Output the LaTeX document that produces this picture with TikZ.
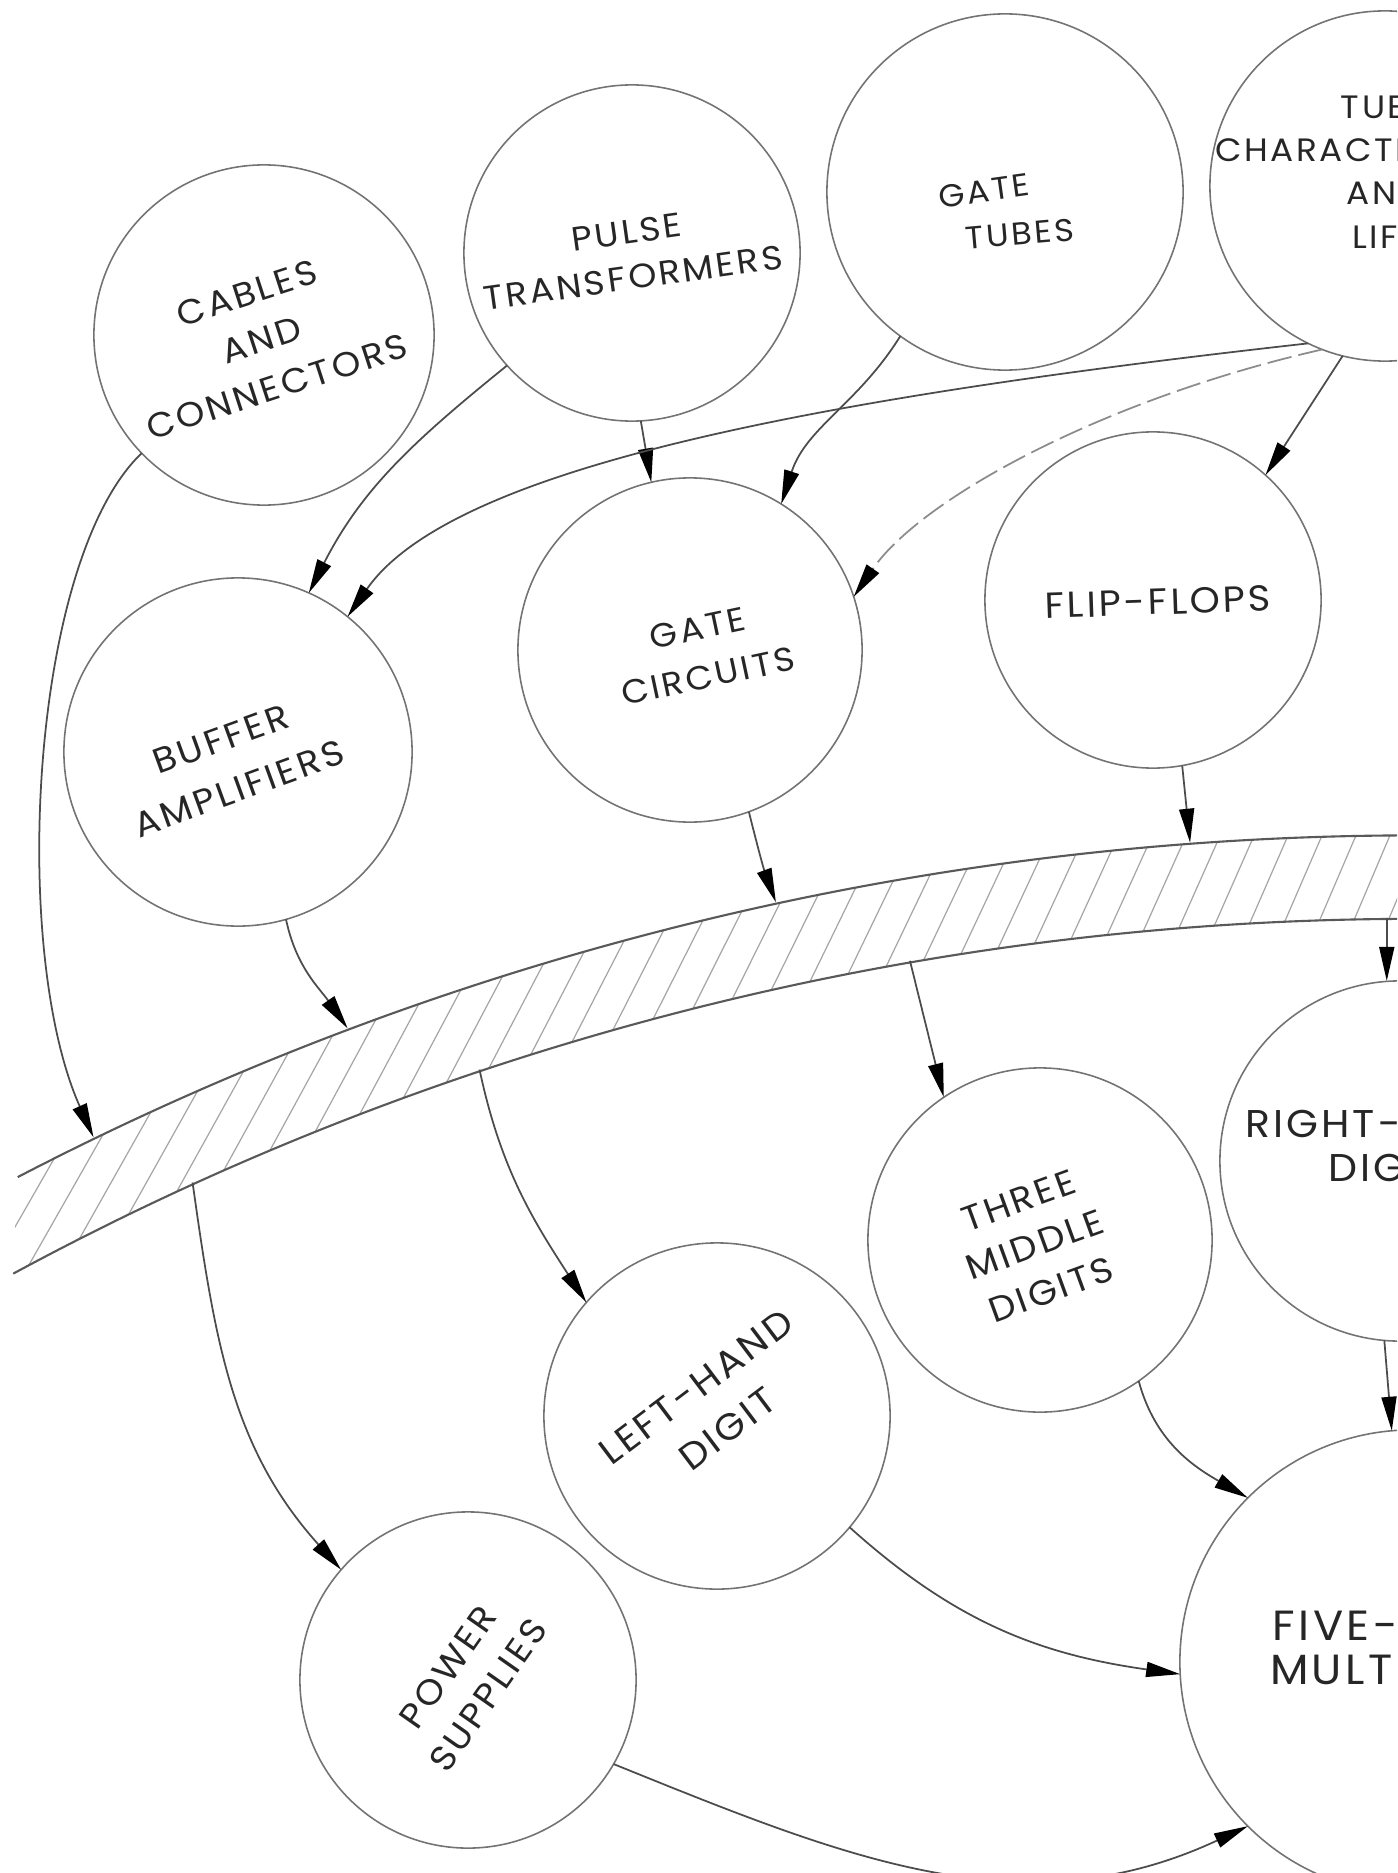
\documentclass[tikz,border=0pt]{standalone}
\usepackage{fontspec}
\setmainfont{Poppins}[LetterSpace=8,FakeStretch=1.06]
\usetikzlibrary{arrows.meta}
\begin{document}
\begin{tikzpicture}[x=0.01cm,y=0.01cm,
  circ/.style={circle,draw=black!55,line width=0.45pt,inner sep=0pt,outer sep=0pt},
  lbl/.style={text=black!85,align=center,inner sep=0pt},
  arr/.style={draw=black!70,line width=0.5pt,-{Triangle[length=0.34cm,width=0.15cm,color=black]}},
  arrfaint/.style={arr,draw=black!45,dash pattern=on 7pt off 2pt},
  bandline/.style={draw=black!65,line width=0.6pt},
  hatchline/.style={draw=black!35,line width=0.35pt}]
\useasboundingbox (0,0) rectangle (1397,-1873);
\clip (0,0) rectangle (1397,-1873);

% circles
\node[circ,minimum size=3.40cm] (cab) at (264,-335) {};
\node[circ,minimum size=3.36cm] (pul) at (632,-253) {};
\node[circ,minimum size=3.56cm] (gtu) at (1005,-192) {};
\node[circ,minimum size=3.50cm] (tub) at (1385,-186) {};
\node[circ,minimum size=3.48cm] (buf) at (238,-752) {};
\node[circ,minimum size=3.44cm] (gci) at (690,-650) {};
\node[circ,minimum size=3.36cm] (ffl) at (1153,-600) {};
\node[circ,minimum size=3.44cm] (thr) at (1040,-1240) {};
\node[circ,minimum size=3.60cm] (rhd) at (1400,-1161) {};
\node[circ,minimum size=3.46cm] (lhd) at (717,-1416) {};
\node[circ,minimum size=3.36cm] (pow) at (468,-1680) {};
\node[circ,minimum size=4.64cm] (fiv) at (1412,-1662) {};

% labels
\node[lbl,rotate=18,font=\fontsize{9.8}{14}\selectfont] (cabT) at (262,-340) {CABLES\\AND\\CONNECTORS};
\node[lbl,rotate=8,font=\fontsize{9.6}{13}\selectfont] (pulT) at (630,-255) {PULSE\\TRANSFORMERS};
\node[lbl,rotate=8,font=\fontsize{9}{12}\selectfont] (gtuT1) at (984,-191) {GATE};
\node[lbl,rotate=5,font=\fontsize{9}{12}\selectfont] (gtuT2) at (1020,-234) {TUBES};
\node[lbl,font=\fontsize{9.2}{12.3}\selectfont] (tubT) at (1385,-172) {TUBE\\CHARACTERISTICS\\AND\\LIFE};
\node[lbl,rotate=20,font=\fontsize{10}{15}\selectfont] (bufT) at (230,-764) {BUFFER\\AMPLIFIERS};
\node[lbl,rotate=12,font=\fontsize{9.5}{14}\selectfont] (gciT) at (703,-652) {GATE\\CIRCUITS};
\node[lbl,rotate=2,font=\fontsize{10.3}{13}\selectfont] (fflT) at (1158,-602) {FLIP-FLOPS};
\node[lbl,rotate=20,font=\fontsize{10}{13.5}\selectfont] (thrT) at (1035,-1245) {THREE\\MIDDLE\\DIGITS};
\node[lbl,font=\fontsize{11}{12.5}\selectfont] (rhdT) at (1386,-1146) {RIGHT-HAND\\DIGIT};
\node[lbl,rotate=37,font=\fontsize{10.5}{15}\selectfont] (lhdT) at (712,-1408) {LEFT-HAND\\DIGIT};
\node[lbl,rotate=55,font=\fontsize{10}{14}\selectfont] (powT) at (468,-1681) {POWER\\SUPPLIES};
\node[lbl,font=\fontsize{12}{12.5}\selectfont] (fivT) at (1400,-1648) {FIVE-DIGIT\\MULTIPLIER};

% band
\coordinate (C) at (1414,-3864);
\begin{scope}
\clip (17.7,-1177.1) arc[start angle=117.47,end angle=88,radius=30.28cm]
  -- (1516.8,-920.8) arc[start angle=88,end angle=118.4,radius=29.45cm] -- cycle;
\foreach \i in {0,...,46} {
  \draw[hatchline] (\i*36-80,-1330) -- ++({60+0.2*\i}:6cm);
}
\end{scope}
\draw[bandline] (17.7,-1177.1) arc[start angle=117.47,end angle=88,radius=30.28cm];
\draw[bandline] (13.3,-1273.6) arc[start angle=118.4,end angle=88,radius=29.45cm];

\path (C) ++(115.84:30.28cm) coordinate (bU1);
\path (C) ++(110.61:30.28cm) coordinate (bU2);
\path (C) ++(102.16:30.28cm) coordinate (bU3);
\path (C) ++(94.24:30.28cm) coordinate (bU4);
\path (C) ++(114.49:29.45cm) coordinate (bL1);
\path (C) ++(108.49:29.45cm) coordinate (bL2);
\path (C) ++(99.85:29.45cm) coordinate (bL3);
\path (C) ++(90.53:29.45cm) coordinate (bL4);

% connectors
\draw[arr] (cab.224.5) .. controls (30,-560) and (10,-950) .. (bU1);
\draw[arr] (buf.-74) to[out=-78,in=125] (bU2);
\draw[arr] (gci.-70) to[out=-76,in=110] (bU3);
\draw[arr] (ffl.-80) -- (bU4);
\draw[arr] (bL4) -- (bL4 |- rhd.north);
\draw[arr] (rhd.-95) -- (fiv.95);
\draw[arr] (bL3) -- (thr.124);
\draw[arr] (bL2) to[out=-78,in=123] (lhd.139);
\draw[arr] (bL1) to[out=-82,in=132] (pow.139);
\draw[arr] (pul.222) to[out=219,in=63] (buf.66);
\draw[arr] (pul.273) -- (gci.103.5);
\draw[arr] (gtu.234) to[out=238,in=72] (gci.58);
\draw[arr] (tub.256) -- (ffl.48);
\draw[arr] (tub.244) .. controls (800,-400) and (450,-470) .. (buf.51);
\draw[arrfaint] (tub.249) .. controls (1100,-400) and (920,-500) .. (gci.18);
\draw[arr] (thr.-55) to[out=-75,in=150] (fiv.135);
\draw[arr] (lhd.-40) to[out=-42,in=172] (fiv.183);
\draw[arr] (pow.-30) to[out=-22,in=205] (fiv.225);
\end{tikzpicture}
\end{document}
